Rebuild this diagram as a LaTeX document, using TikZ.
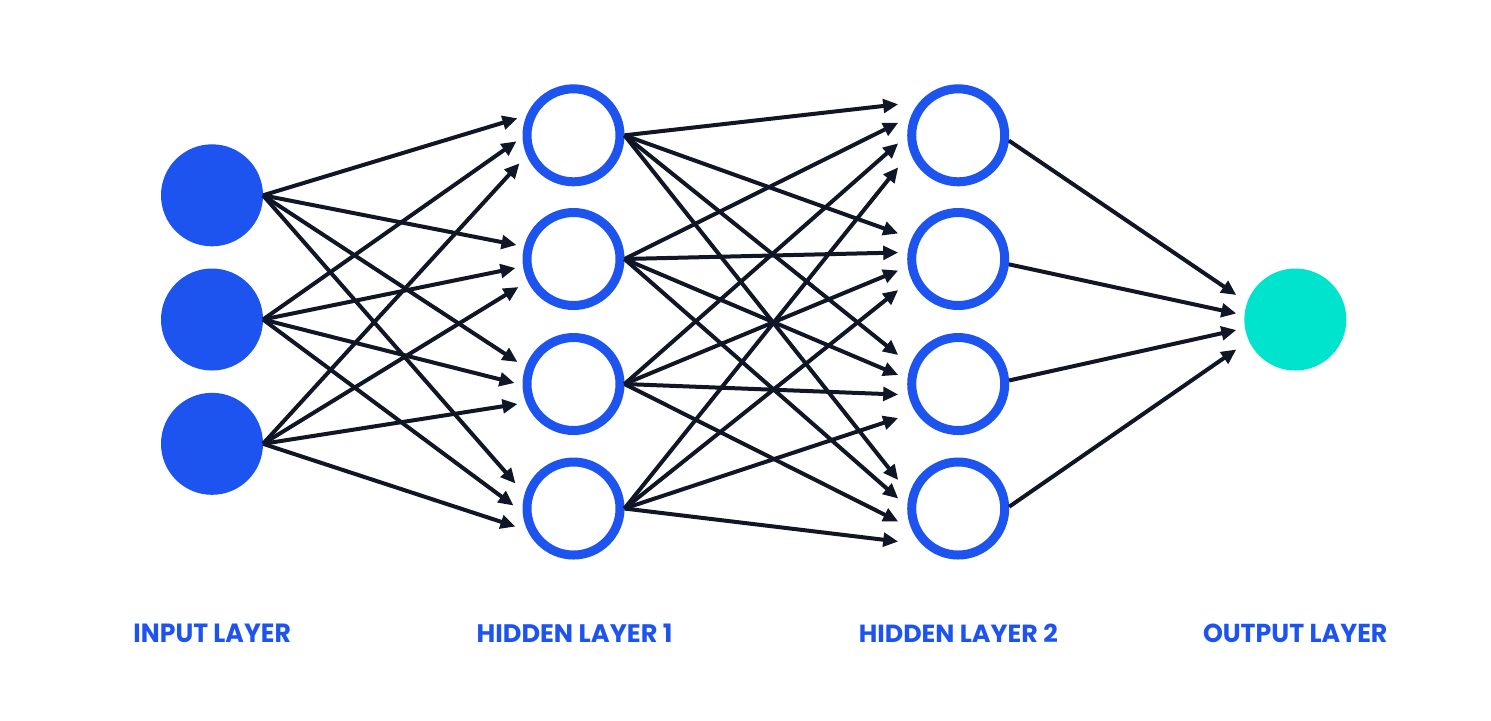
\documentclass[tikz,border=0pt]{standalone}
\usepackage{fontspec}
\usepackage{graphicx}
\setmainfont{Poppins}
\usetikzlibrary{arrows.meta}
\definecolor{nnblue}{RGB}{29,84,240}
\definecolor{nnteal}{RGB}{0,228,206}
\definecolor{nnink}{RGB}{16,22,38}
\begin{document}
\begin{tikzpicture}[x=0.5pt,y=-0.5pt,
  inputnode/.style={circle,fill=nnblue,draw=none,minimum size=51pt,inner sep=0pt,outer sep=0pt},
  hiddennode/.style={circle,draw=nnblue,line width=4.5pt,fill=white,minimum size=46.5pt,inner sep=0pt},
  outputnode/.style={circle,fill=nnteal,draw=none,minimum size=51pt,inner sep=0pt,outer sep=0pt},
  conn/.style={draw=nnink,line width=2pt,-{Triangle[length=7.5pt,width=6.8pt]}},
  layerlabel/.style={text=nnblue,inner sep=0pt,anchor=base,font=\bfseries}]
\fill[white] (0,0) rectangle (1491,720);
\useasboundingbox (0,0) rectangle (1491,720);

% nodes
\node[inputnode] (i1) at (212,195.3) {};
\node[inputnode] (i2) at (212,319.5) {};
\node[inputnode] (i3) at (212,443.8) {};

\node[hiddennode] (h1a) at (573.5,135.3) {};
\node[hiddennode] (h1b) at (573.5,259) {};
\node[hiddennode] (h1c) at (573.5,384) {};
\node[hiddennode] (h1d) at (573.5,508.5) {};

\node[hiddennode] (h2a) at (958.2,135.3) {};
\node[hiddennode] (h2b) at (958.2,259) {};
\node[hiddennode] (h2c) at (958.2,384) {};
\node[hiddennode] (h2d) at (958.2,508.5) {};

\node[outputnode] (o) at (1295.3,319.5) {};

% input -> hidden 1
\foreach \s/\t/\dx/\dy in {
  i1/h1a/-56/-17, i2/h1a/-57/6, i3/h1a/-54/28,
  i1/h1b/-57/-14, i2/h1b/-58/9, i3/h1b/-55/28,
  i1/h1c/-56/-22, i2/h1c/-59/-1, i3/h1c/-56/20,
  i1/h1d/-58/-25, i2/h1d/-60/-3, i3/h1d/-58/18}
  \draw[conn] (\s.east) -- ([shift={(\dx,\dy)}]\t.center);

% hidden 1 -> hidden 2
\foreach \s/\t/\dy in {
  h1a/h2a/-31, h1b/h2a/-12.5, h1c/h2a/8, h1d/h2a/32,
  h1a/h2b/-25.5, h1b/h2b/-6.5, h1c/h2b/11.5, h1d/h2b/31,
  h1a/h2c/-29, h1b/h2c/-9, h1c/h2c/10.5, h1d/h2c/34,
  h1a/h2d/-28.5, h1b/h2d/-10, h1c/h2d/13, h1d/h2d/33}
  \draw[conn] (\s.east) -- ([shift={(-60,\dy)}]\t.center);

% hidden 2 -> output
\draw[conn] (h2a.-6) -- ([shift={(-59,-24.5)}]o.center);
\draw[conn] (h2b.-6) -- ([shift={(-59,-6)}]o.center);
\draw[conn] (h2c.4) -- ([shift={(-59,10.5)}]o.center);
\draw[conn] (h2d.2) -- ([shift={(-59,30)}]o.center);

% labels
\node[layerlabel] (lin) at (212.2,642) {\resizebox{78.7pt}{9.25pt}{INPUT LAYER}};
\node[layerlabel] (lh1) at (574.6,642) {\resizebox{98pt}{9.25pt}{HIDDEN LAYER 1}};
\node[layerlabel] (lh2) at (958.3,642) {\resizebox{99.5pt}{9.25pt}{HIDDEN LAYER 2}};
\node[layerlabel] (lout) at (1295.2,642) {\resizebox{92.2pt}{9.25pt}{OUTPUT LAYER}};
\end{tikzpicture}
\end{document}
